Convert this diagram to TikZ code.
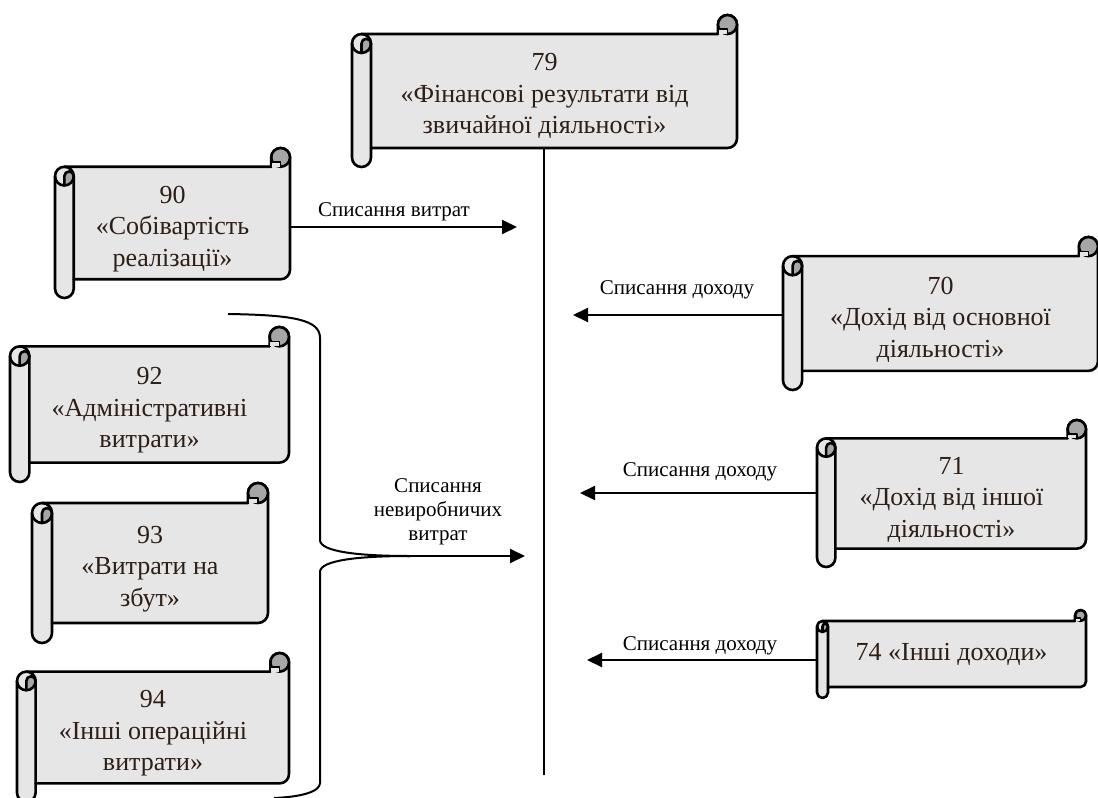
\documentclass[tikz,border=0pt]{standalone}
\usepackage{fontspec}
\setmainfont{Liberation Serif}
\usetikzlibrary{arrows.meta}
\definecolor{scrollfill}{RGB}{230,230,230}
\definecolor{curlfill}{RGB}{166,166,166}
\definecolor{scrolltextcol}{RGB}{45,30,22}
\tikzset{
  scrollline/.style={line width=2.6pt, line join=round, line cap=round},
  scrolltext/.style={inner sep=0pt, align=center, text=scrolltextcol, font=\fontsize{26}{31.5}\selectfont},
  lbl/.style={inner sep=0pt, align=center, font=\fontsize{21}{24}\selectfont},
  flow/.style={line width=2pt, -{Triangle[length=15pt,width=14pt]}},
  plainline/.style={line width=2pt},
}
% #1 name, #2 left, #3 top, #4 right, #5 bottom (pixels, y down), #6 text shift, #7 text
\newcommand{\scrollbox}[7]{%
  \pgfmathsetmacro\scC{min(#4-#2,#5-#3)/8}%
  \pgfmathsetmacro\scH{\scC/2}%
  \pgfmathsetmacro\scQ{\scC/4}%
  \pgfmathsetmacro\scXa{#2+\scH}%
  \pgfmathsetmacro\scXb{#2+\scC}%
  \pgfmathsetmacro\scXc{#4-\scC}%
  \pgfmathsetmacro\scXd{#4-\scH}%
  \pgfmathsetmacro\scYa{#3+\scH}%
  \pgfmathsetmacro\scYb{#3+\scC}%
  \pgfmathsetmacro\scYc{#3+1.5*\scC}%
  \pgfmathsetmacro\scYd{#3+2*\scC}%
  \pgfmathsetmacro\scYe{#3+0.75*\scC}%
  \pgfmathsetmacro\scYf{#5-1.5*\scC}%
  \pgfmathsetmacro\scYg{#5-\scC}%
  \pgfmathsetmacro\scYh{#5-\scH}%
  \pgfmathsetmacro\scW{#4-#2}%
  \pgfmathsetmacro\scHt{\scYg-\scYb}%
  \pgfmathsetmacro\scMx{(#2+#4)/2}%
  \pgfmathsetmacro\scMy{(\scYb+\scYg)/2}%
  \pgfmathsetmacro\scMt{(\scYb+\scYg)/2+#6}%
  \filldraw[scrollline, fill=scrollfill] (#2,\scYc) arc[start angle=180,end angle=270,radius=\scH]
     -- (\scXc,\scYb) -- (\scXc,\scYa) arc[start angle=180,end angle=360,radius=\scH]
     -- (#4,\scYf) arc[start angle=0,end angle=90,radius=\scH]
     -- (\scXb,\scYg) -- (\scXb,\scYh) arc[start angle=0,end angle=180,radius=\scH] -- cycle;
  \filldraw[scrollline, fill=curlfill] (\scXd,\scYa) circle[radius=\scH];
  \fill[scrollfill] (\scXc,\scYb) rectangle (\scXd,\scYe);
  \draw[scrollline, line width=1.6pt] (\scXc,\scYb) -- (\scXc,\scYe) -- (\scXd,\scYe) -- (\scXd,\scYb);
  \filldraw[scrollline, fill=curlfill] (\scXa,\scYc) arc[start angle=180,end angle=360,radius=\scQ]
     arc[start angle=0,end angle=90,radius=\scH] -- cycle;
  \draw[scrollline] (\scXa,\scYd) arc[start angle=90,end angle=180,radius=\scH];
  \draw[scrollline] (\scXa,\scYb) arc[start angle=270,end angle=360,radius=\scH] -- (\scXb,\scYg);
  \coordinate (#1-bot) at (\scMx,\scYg);
  \node[scrolltext, minimum width=\scW pt] (#1) at (\scMx,\scMt) {#7};
}
\begin{document}
\begin{tikzpicture}[x=1pt,y=-1pt]
\useasboundingbox (0,0) rectangle (1098,798);

\scrollbox{s79}{352}{15}{737}{167}{5}{79\\«Фінансові результати від\\звичайної діяльності»}
\scrollbox{s90}{55}{148}{290}{298}{6}{90\\«Собівартість\\реалізації»}
\scrollbox{s92}{10}{327}{289}{482}{6}{92\\«Адміністративні\\витрати»}
\scrollbox{s93}{32}{483}{268}{643}{6}{93\\«Витрати на\\збут»}
\scrollbox{s94}{17}{653}{289}{802}{6}{94\\«Інші операційні\\витрати»}
\scrollbox{s70}{783}{237}{1098}{390}{6}{70\\«Дохід від основної\\діяльності»}
\scrollbox{s71}{817}{420}{1086}{567}{6}{71\\«Дохід від іншої\\діяльності»}
\scrollbox{s74}{817}{610}{1086}{698}{0}{74 «Інші доходи»}

% vertical line
\coordinate (vb) at (544,775);
\draw[plainline] (s79-bot -| vb) -- (vb);

% arrows
\coordinate (t1) at (517,227);
\draw[flow] (s90.east |- t1) -- (t1);
\coordinate (t2) at (573,315);
\draw[flow] (s70.west |- t2) -- (t2);
\coordinate (t3) at (580,493);
\draw[flow] (s71.west |- t3) -- (t3);
\coordinate (t4) at (587,660);
\draw[flow] (s74.west |- t4) -- (t4);

% brace
\coordinate (bt) at (228,314);
\coordinate (bm) at (410,556);
\coordinate (bb) at (274,798);
\coordinate (t5) at (525,556);
\draw[plainline] (bt) .. controls (295,315) and (320,320) .. (320,338) -- (320,540)
   .. controls (320,552) and (360,556) .. (bm);
\draw[plainline] (bm) .. controls (360,556) and (320,560) .. (320,572) -- (320,783)
   .. controls (320,792) and (300,797) .. (bb);
\draw[flow] (bm) -- (t5);

% labels
\node[lbl] (l1) at (394,212) {Списання витрат};
\node[lbl] (l2) at (677,290) {Списання доходу};
\node[lbl] (l3) at (700,472) {Списання доходу};
\node[lbl] (l4) at (700,646) {Списання доходу};
\node[lbl] (l5) at (438,512) {Списання\\невиробничих\\витрат};
\end{tikzpicture}
\end{document}
